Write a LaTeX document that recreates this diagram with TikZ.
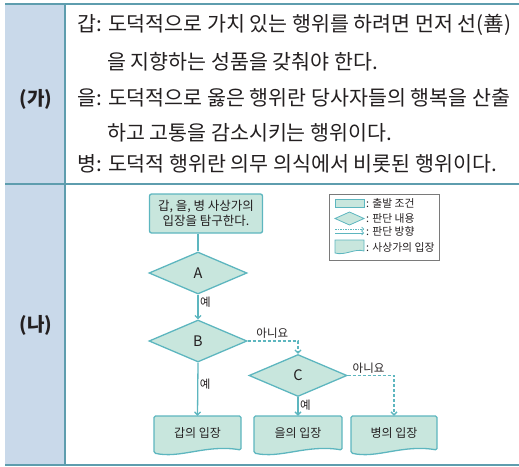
\documentclass[tikz,border=0pt]{standalone}
\usepackage{fontspec}
\setmainfont{Noto Sans CJK KR}
\usetikzlibrary{shapes.geometric,arrows.meta}
\definecolor{colfill}{HTML}{C9D9EA}
\definecolor{tline}{HTML}{5E9DAE}
\definecolor{ffill}{HTML}{C8E6DD}
\definecolor{fline}{HTML}{5DB6BF}
\definecolor{txt}{HTML}{231F20}
\definecolor{legline}{HTML}{7A7A7A}
\newcommand\mydoc[4]{% x0, x1, ytop, ybottom
  \filldraw[docshape] (#1,#3) -- (#2,#3) -- (#2,{#4-3})
    .. controls ({#1+0.6*(#2-#1)},{#4-9}) and ({#1+0.3*(#2-#1)},{#4+6}) .. (#1,#4) -- cycle;}
\begin{document}
\begin{tikzpicture}[x=1pt,y=-1pt,
  font=\fontsize{20.6}{20.6}\selectfont, text=txt,
  sidelabel/.style={font=\fontsize{19}{19}\selectfont\bfseries},
  bodyline/.style={anchor=west, inner sep=0},
  startbox/.style={draw=fline, fill=ffill, line width=1.3pt, rounded corners=2pt,
    minimum width=113pt, minimum height=39pt, align=center, inner sep=0,
    font=\fontsize{12.5}{14.5}\selectfont},
  decision/.style={diamond, draw=fline, fill=ffill, line width=1.3pt,
    minimum width=98pt, minimum height=42pt, inner sep=0,
    font=\fontsize{14.5}{14.5}\selectfont},
  docshape/.style={draw=fline, fill=ffill, line width=1.3pt, rounded corners=1.5pt},
  docnode/.style={minimum width=87pt, minimum height=34pt, inner sep=0,
    font=\fontsize{12}{12}\selectfont},
  yesline/.style={draw=fline, line width=1.3pt, -{Straight Barb[length=3pt,width=6pt]}},
  noline/.style={draw=fline, line width=1.3pt, dashed, dash pattern=on 3pt off 2pt,
    -{Straight Barb[length=3pt,width=6pt]}},
  edgelabel/.style={font=\fontsize{11.5}{11.5}\selectfont, inner sep=1.5pt},
  legtext/.style={anchor=west, inner sep=0, font=\fontsize{10.8}{10.8}\selectfont}
]
\useasboundingbox (0,0) rectangle (519,466);
% table
\fill[colfill] (5,4) rectangle (65,465);
\draw[tline, line width=1.2pt] (5,4) -- (519,4);
\draw[tline, line width=1.2pt] (5,184) -- (519,184);
\draw[tline, line width=1.6pt] (5,465) -- (519,465);
\draw[tline, line width=1.2pt] (65,4) -- (65,465);
\node[sidelabel] (ga) at (36,99) {(가)};
\node[sidelabel] (na) at (36,325) {(나)};
% text of (가)
\node[bodyline] (l1) at (77,25) {갑: 도덕적으로 가치 있는 행위를 하려면 먼저 선(善)};
\node[bodyline] (l2) at (107,62) {을 지향하는 성품을 갖춰야 한다.};
\node[bodyline] (l3) at (77,98) {을: 도덕적으로 옳은 행위란 당사자들의 행복을 산출};
\node[bodyline] (l4) at (107,133) {하고 고통을 감소시키는 행위이다.};
\node[bodyline] (l5) at (77,164) {병: 도덕적 행위란 의무 의식에서 비롯된 행위이다.};
% flowchart
\node[startbox] (start) at (206,213.5) {갑, 을, 병 사상가의\\입장을 탐구한다.};
\node[decision] (A) at (198,273) {A};
\node[decision] (B) at (198,341) {B};
\node[decision] (C) at (298,375.5) {C};
\mydoc{154}{241}{416}{453}
\mydoc{254}{342}{416}{453}
\mydoc{351}{437}{416}{453}
\node[docnode] (gap) at (197.5,433) {갑의 입장};
\node[docnode] (eul) at (298,433) {을의 입장};
\node[docnode] (byeong) at (394,433) {병의 입장};
\draw[draw=fline, line width=1.3pt] (start.south -| A.north) -- (A.north);
\draw[yesline] (A.south) -- (B.north) node[pos=0.3, right, edgelabel] {예};
\draw[yesline] (B.south) -- (gap.north) node[pos=0.4, right, edgelabel] {예};
\draw[noline] (B.east) -| (C.north) node[pos=0.245, above, edgelabel] {아니요};
\draw[yesline] (C.south) -- (eul.north) node[pos=0.45, right, edgelabel] {예};
\draw[noline] (C.east) -| (byeong.north) node[pos=0.226, above, edgelabel] {아니요};
% legend
\draw[legline, line width=0.7pt] (329,194) rectangle (439,260);
\filldraw[draw=fline, fill=ffill, line width=0.8pt] (335,199) rectangle (364,207);
\filldraw[draw=fline, fill=ffill, line width=0.8pt] (335,218.5) -- (349.5,212) -- (364,218.5) -- (349.5,225) -- cycle;
\draw[fline, line width=0.7pt, dash pattern=on 1.5pt off 1pt, -{Straight Barb[length=2pt,width=4pt]}] (335,229) -- (364,229);
\draw[fline, line width=0.7pt, -{Straight Barb[length=2pt,width=4pt]}] (335,233) -- (364,233);
\filldraw[draw=fline, fill=ffill, line width=0.8pt] (335,240) -- (364,240) -- (364,251)
  .. controls (355,248) and (345,256) .. (335,253) -- cycle;
\node[legtext] (lg1) at (366,203) {: 출발 조건};
\node[legtext] (lg2) at (366,218.5) {: 판단 내용};
\node[legtext] (lg3) at (366,231.5) {: 판단 방향};
\node[legtext] (lg4) at (366,247) {: 사상가의 입장};
\end{tikzpicture}
\end{document}
